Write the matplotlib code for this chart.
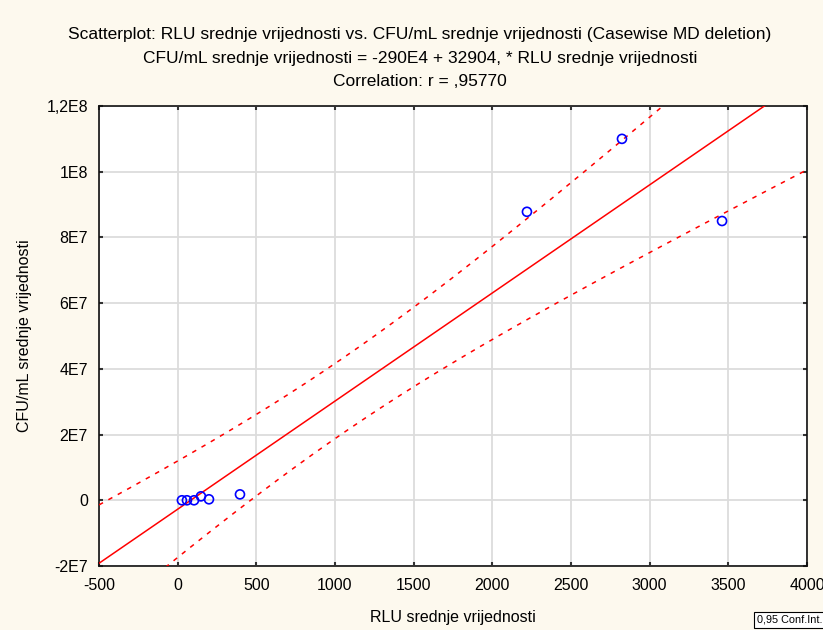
import numpy as np
import matplotlib
matplotlib.use('Agg')
import matplotlib.pyplot as plt

# RLU vs CFU/mL mean values
rlu = [27, 59, 104, 148, 199, 396, 2220, 2824, 3460]
cfu = [0.0, 0.0, 0.0, 1.2e6, 0.3e6, 1.8e6, 8.78e7, 1.10e8, 8.5e7]

xticks = [-500, 0, 500, 1000, 1500, 2000, 2500, 3000, 3500, 4000]
yticks = [-2e7, 0, 2e7, 4e7, 6e7, 8e7, 1e8, 1.2e8]
ytick_labels = ['-2E7', '0', '2E7', '4E7', '6E7', '8E7', '1E8', '1,2E8']

title = ("Scatterplot: RLU srednje vrijednosti vs. CFU/mL srednje vrijednosti (Casewise MD deletion)\n"
         "CFU/mL srednje vrijednosti = -290E4 + 32904, * RLU srednje vrijednosti\n"
         "Correlation: r = ,95770")

plt.rcParams['font.family'] = ['Liberation Sans', 'DejaVu Sans']
plt.rcParams['axes.unicode_minus'] = False

bg = '#fdf9ee'
fig = plt.figure(figsize=(8.23, 6.3), dpi=100, facecolor=bg)
ax = fig.add_axes([99 / 823, 1 - 566 / 630, 708 / 823, 460 / 630])
ax.set_facecolor('white')

x = np.array(rlu)
y = np.array(cfu)
n = len(x)
slope, intercept = np.polyfit(x, y, 1)
xs = np.linspace(-500, 4000, 200)
fit = intercept + slope * xs
resid = y - (intercept + slope * x)
s = np.sqrt(np.sum(resid ** 2) / (n - 2))
sxx = np.sum((x - x.mean()) ** 2)
t = 2.3646  # t(0.975, 7)
half = t * s * np.sqrt(1 / n + (xs - x.mean()) ** 2 / sxx)

ax.plot(xs, fit, color='#ff0000', lw=1.1, zorder=3)
ax.plot(xs, fit + half, color='#ff0000', lw=1.1, ls=(0, (3, 4)), zorder=3)
ax.plot(xs, fit - half, color='#ff0000', lw=1.1, ls=(0, (3, 4)), zorder=3)
ax.scatter(x, y, s=42, facecolors='none', edgecolors='#0000ff', linewidths=1.2, zorder=4)

ax.set_xlim(-500, 4000)
ax.set_ylim(-2e7, 1.2e8)
ax.set_xticks(xticks)
ax.set_yticks(yticks)
ax.set_yticklabels(ytick_labels)
ax.grid(True, color='#dcdcdc', lw=1.3)
ax.set_axisbelow(True)
ax.tick_params(labelsize=11.5, length=3, width=1.5, direction='in',
               top=True, right=True, color='#333333')
ax.tick_params(axis='y', pad=8)
ax.tick_params(axis='x', pad=9)
for sp in ax.spines.values():
    sp.set_linewidth(1.2)
    sp.set_color('#111111')

ax.set_xlabel('RLU srednje vrijednosti', fontsize=11.5, labelpad=12)
ax.set_ylabel('CFU/mL srednje vrijednosti', fontsize=11.5, labelpad=10)
fig.text(420 / 823, 1 - 58 / 630, title, ha='center', va='center', fontsize=12.5, linespacing=1.72)

fig.text(757 / 823, 1 - 620 / 630, '0,95 Conf.Int.', fontsize=7.8, ha='left', va='center',
         bbox=dict(boxstyle='square,pad=0.25', fc='white', ec='black', lw=0.8))

fig.savefig('out.png', dpi=100, facecolor=bg)
